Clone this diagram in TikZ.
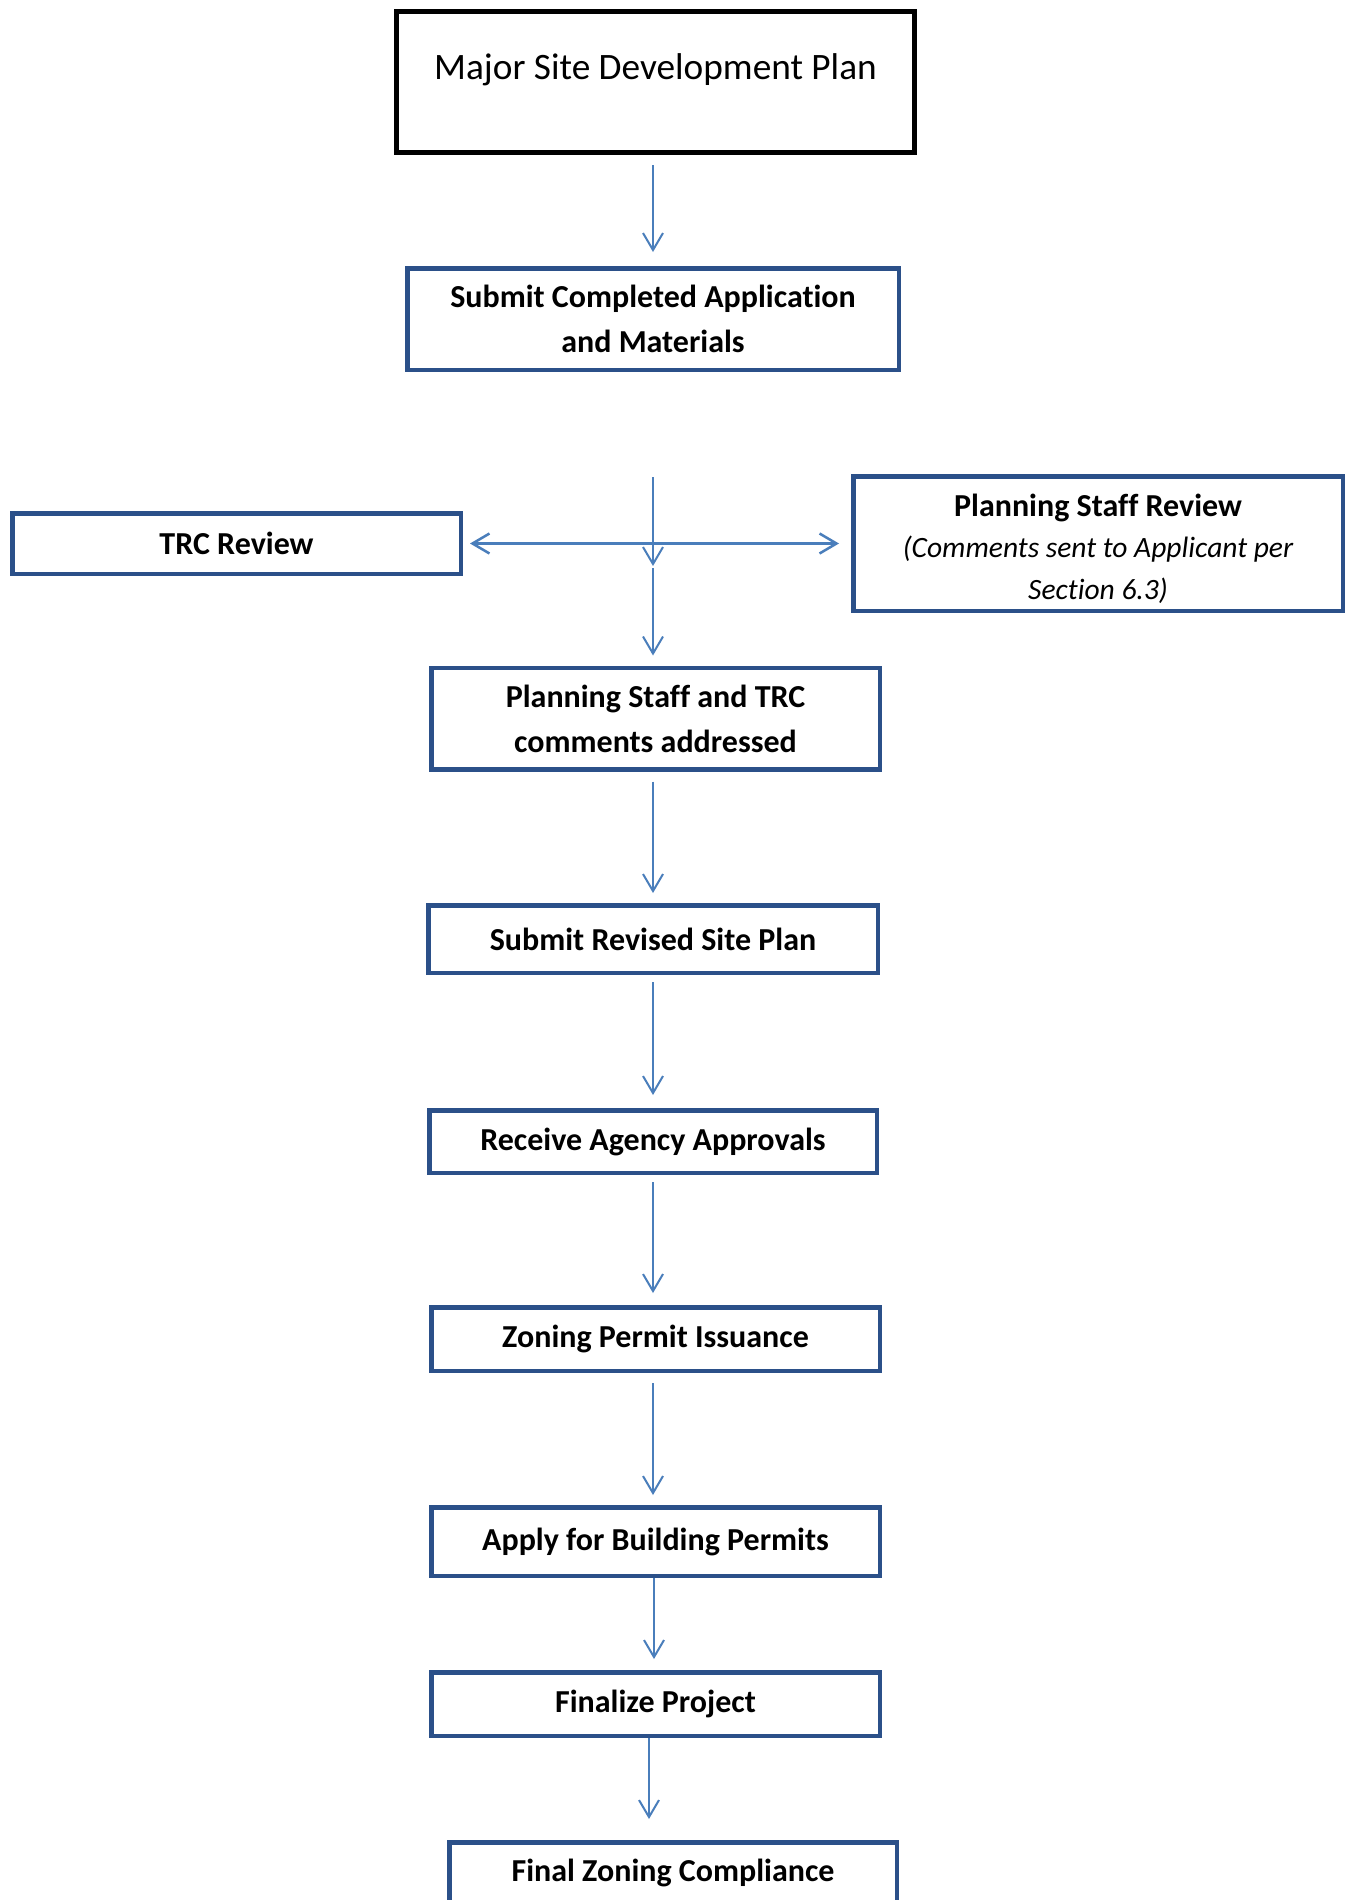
\documentclass[tikz,border=0pt]{standalone}
\usepackage{fontspec}
\setmainfont{Carlito}[Ligatures=NoCommon]
\usetikzlibrary{arrows.meta}
\definecolor{boxblue}{HTML}{2B5089}
\definecolor{arrblue}{HTML}{4A7EBB}
\tikzset{
  stepbox/.style={draw=boxblue, line width=4.5pt, align=center, inner sep=0pt,
    font=\fontsize{32}{45}\selectfont\bfseries},
  flow/.style={draw=arrblue, line width=2pt,
    -{Straight Barb[length=17pt,width=20pt]}},
  twoway/.style={draw=arrblue, line width=2.5pt,
    {Straight Barb[length=17pt,width=20pt]}-{Straight Barb[length=17pt,width=20pt]}},
}
\begin{document}
\begin{tikzpicture}[x=1pt,y=-1pt]
\useasboundingbox (0,0) rectangle (1354,1900);
\clip (0,0) rectangle (1354,1900);
\fill[white] (0,0) rectangle (1354,1900);

\node[draw=black, line width=5pt, inner sep=0pt, minimum width=518pt, minimum height=141pt,
  label={[font=\fontsize{37.3}{44}\selectfont, yshift=12.5pt]center:Major Site Development Plan}]
  (major) at (655.5,82) {};
\node[stepbox, minimum width=491.5pt, minimum height=101.5pt] (submit) at (653,319)
  {Submit Completed Application\\and Materials};
\node[stepbox, minimum width=448.5pt, minimum height=60.5pt] (trc) at (236.5,543.5) {TRC Review};
\node[stepbox, minimum width=489.5pt, minimum height=134.5pt,
  label={[align=center, yshift=-5pt, font=\fontsize{32}{41.5}\selectfont]center:{\bfseries Planning Staff Review}\\\itshape\fontsize{29.5}{41.5}\selectfont (Comments sent to Applicant per\\\itshape\fontsize{29.5}{41.5}\selectfont Section 6.3)}]
  (psr) at (1098,543.5) {};
\node[stepbox, minimum width=448.5pt, minimum height=101.5pt] (addr) at (655.5,718.5)
  {Planning Staff and TRC\\comments addressed};
\node[stepbox, minimum width=449.5pt, minimum height=67.5pt] (revised) at (653,939) {Submit Revised Site Plan};
\node[stepbox, minimum width=447.5pt, minimum height=62.5pt] (receive) at (653,1141.5) {Receive Agency Approvals};
\node[stepbox, minimum width=448.5pt, minimum height=63.5pt] (zoning) at (655.5,1339) {Zoning Permit Issuance};
\node[stepbox, minimum width=448.5pt, minimum height=68.5pt] (apply) at (655.5,1541.5) {Apply for Building Permits};
\node[stepbox, minimum width=448.5pt, minimum height=63.5pt] (finalize) at (655.5,1704) {Finalize Project};
\node[stepbox, anchor=north, minimum width=447.5pt, minimum height=130pt,
  label={[anchor=center, yshift=-33pt, font=\fontsize{32}{45}\selectfont\bfseries]north:Final Zoning Compliance}]
  (final) at (673,1840) {};

\coordinate (axis) at (653,0);
\coordinate (axisb) at (654,0);
\coordinate (axisc) at (649,0);
\coordinate (ctop) at (653,477);
\coordinate (cknee) at (653,566);

\draw[flow, shorten <=10pt, shorten >=14pt] (major.south -| axis) -- (submit.north -| axis);
\draw[flow] (ctop) -- (cknee);
\draw[flow, shorten <=2pt, shorten >=10pt] (cknee) -- (addr.north -| axis);
\draw[twoway, shorten <=7pt, shorten >=12pt] (trc.east) -- (psr.west |- trc.east);
\draw[flow, shorten <=10pt, shorten >=10pt] (addr.south -| axis) -- (revised.north -| axis);
\draw[flow, shorten <=7pt, shorten >=13pt] (revised.south -| axis) -- (receive.north -| axis);
\draw[flow, shorten <=7pt, shorten >=12pt] (receive.south -| axis) -- (zoning.north -| axis);
\draw[flow, shorten <=10pt, shorten >=10pt] (zoning.south -| axis) -- (apply.north -| axis);
\draw[flow, shorten >=11pt] (apply.south -| axisb) -- (finalize.north -| axisb);
\draw[flow, shorten >=21pt] (finalize.south -| axisc) -- (final.north -| axisc);
\end{tikzpicture}
\end{document}
